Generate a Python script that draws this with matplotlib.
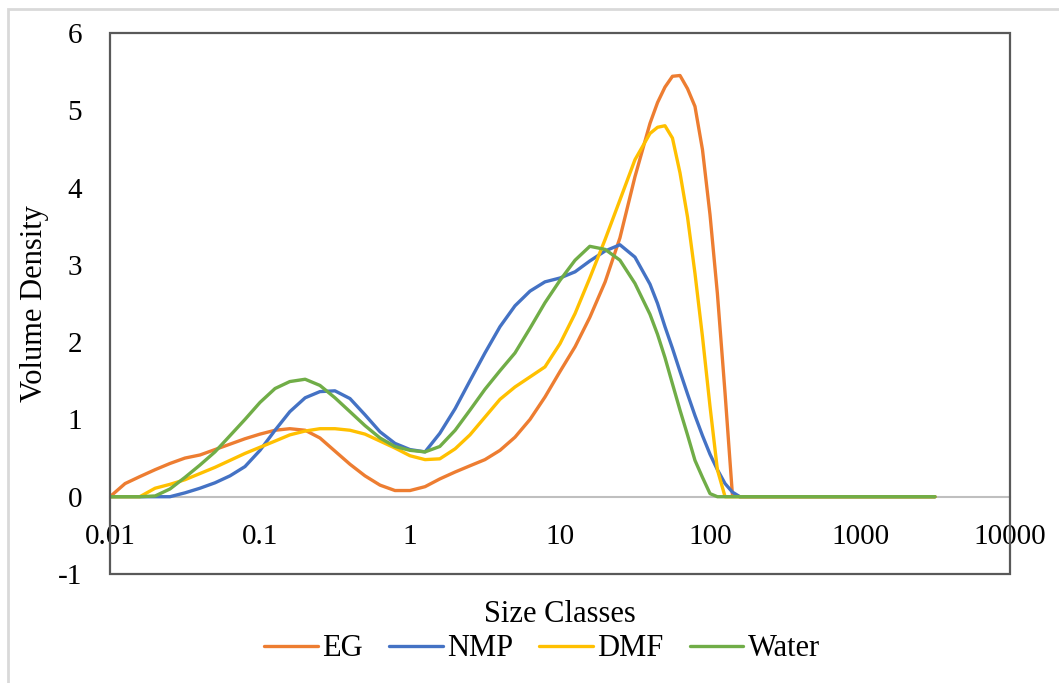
#!/usr/bin/env python3

import matplotlib.pyplot as plt
from matplotlib.patches import Rectangle

# size classes (um), log spaced like the instrument output
size_classes = [0.01, 0.0126, 0.0158, 0.02, 0.0251, 0.0316, 0.0398, 0.0501, 0.0631, 0.0794,
                0.1, 0.126, 0.158, 0.2, 0.251, 0.316, 0.398, 0.501, 0.631, 0.794,
                1, 1.26, 1.58, 2, 2.51, 3.16, 3.98, 5.01, 6.31, 7.94,
                10, 12.6, 15.8, 20, 25.1, 31.6, 39.8, 44.7, 50.1, 56.2, 63.1, 70.8, 79.4,
                89.1, 100, 112, 126, 141, 158, 200, 500, 1000, 2000, 3160]

eg = [0, 0.17, 0.26, 0.35, 0.43, 0.50, 0.54, 0.61, 0.68, 0.75,
      0.81, 0.86, 0.88, 0.86, 0.76, 0.59, 0.42, 0.27, 0.15, 0.08,
      0.08, 0.13, 0.23, 0.32, 0.40, 0.48, 0.60, 0.77, 1.00, 1.29,
      1.62, 1.94, 2.32, 2.78, 3.35, 4.14, 4.83, 5.10, 5.30, 5.44, 5.45, 5.28, 5.05,
      4.49, 3.65, 2.63, 1.34, 0.03, 0, 0, 0, 0, 0, 0]

nmp = [0, 0, 0, 0, 0, 0.05, 0.11, 0.18, 0.27, 0.39,
       0.60, 0.86, 1.10, 1.28, 1.36, 1.37, 1.27, 1.06, 0.84, 0.69,
       0.61, 0.58, 0.82, 1.14, 1.50, 1.86, 2.20, 2.47, 2.66, 2.78,
       2.83, 2.91, 3.05, 3.18, 3.26, 3.10, 2.75, 2.50, 2.20, 1.92, 1.62, 1.33, 1.05,
       0.79, 0.55, 0.35, 0.17, 0.06, 0, 0, 0, 0, 0, 0]

dmf = [0, 0, 0, 0.11, 0.16, 0.22, 0.30, 0.38, 0.47, 0.56,
       0.64, 0.72, 0.80, 0.85, 0.88, 0.88, 0.86, 0.81, 0.72, 0.63,
       0.53, 0.48, 0.49, 0.62, 0.80, 1.03, 1.26, 1.42, 1.55, 1.68,
       1.98, 2.37, 2.83, 3.33, 3.84, 4.36, 4.70, 4.78, 4.80, 4.64, 4.19, 3.62, 2.89,
       2.07, 1.17, 0.35, 0, 0, 0, 0, 0, 0, 0, 0]

water = [0, 0, 0, 0.01, 0.10, 0.25, 0.41, 0.58, 0.79, 1.00,
         1.22, 1.40, 1.49, 1.52, 1.44, 1.28, 1.10, 0.92, 0.76, 0.65,
         0.60, 0.58, 0.65, 0.86, 1.12, 1.39, 1.63, 1.86, 2.18, 2.51,
         2.80, 3.06, 3.24, 3.20, 3.06, 2.76, 2.36, 2.10, 1.80, 1.46, 1.12, 0.80, 0.47,
         0.25, 0.04, 0, 0, 0, 0, 0, 0, 0, 0, 0]

series = [("EG", eg, "#ED7D31"), ("NMP", nmp, "#4472C4"),
          ("DMF", dmf, "#FFC000"), ("Water", water, "#70AD47")]

x_ticks = [0.01, 0.1, 1, 10, 100, 1000, 10000]
x_tick_labels = ["0.01", "0.1", "1", "10", "100", "1000", "10000"]
y_ticks = [-1, 0, 1, 2, 3, 4, 5, 6]

plt.rcParams["font.family"] = ["Liberation Serif", "DejaVu Serif"]
plt.rcParams["axes.unicode_minus"] = False

fig = plt.figure(figsize=(10.59, 6.83), dpi=100)
ax = fig.add_axes([110 / 1059, 1 - 574 / 683, 900 / 1059, 541 / 683])

for name, vals, col in series:
    ax.plot(size_classes, vals, color=col, lw=2.4, label=name,
            solid_joinstyle="round", solid_capstyle="round")

ax.set_xscale("log")
ax.set_xlim(0.01, 10000)
ax.set_ylim(-1, 6)
ax.set_xticks(x_ticks)
ax.set_xticklabels(x_tick_labels)
ax.minorticks_off()
ax.set_yticks(y_ticks)
ax.tick_params(axis="x", length=0, pad=20, labelsize=21)
ax.tick_params(axis="y", length=0, pad=20, labelsize=21)

# excel style: horizontal axis crosses at zero, plot area boxed
for s in ["left", "right", "top"]:
    ax.spines[s].set_visible(False)
ax.spines["bottom"].set_position(("data", 0))
ax.spines["bottom"].set_color("#BFBFBF")
ax.spines["bottom"].set_linewidth(1.5)
ax.spines["bottom"].set_zorder(1)
ax.add_patch(Rectangle((0, 0), 1, 1, transform=ax.transAxes, fill=False,
                       ec="#595959", lw=1.6, clip_on=False, zorder=5))

ax.set_xlabel("Size Classes", fontsize=22)
ax.xaxis.set_label_coords(0.5, -0.048)
ax.xaxis.label.set_va("top")
ax.set_ylabel("Volume Density", fontsize=22)
ax.yaxis.set_label_coords(-0.068, 0.5)

fig.legend(loc="center", bbox_to_anchor=(542 / 1059, 1 - 649 / 683), ncol=4,
           frameon=False, fontsize=22, handlelength=1.75, handletextpad=0.15,
           columnspacing=0.85, borderpad=0)

# outer chart border (only top/left visible in the crop)
fig.patches.append(Rectangle((8 / 1059, -0.1), 1.2, 1 - 9 / 683 + 0.1,
                             transform=fig.transFigure, fill=False,
                             ec="#D9D9D9", lw=2))

fig.savefig("out.png", dpi=100)
